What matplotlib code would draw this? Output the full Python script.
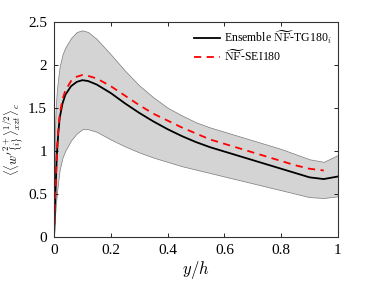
import matplotlib
matplotlib.use("Agg")
import matplotlib.pyplot as plt
import numpy as np

# values
y_h = [0.0, 0.003, 0.006, 0.01, 0.015, 0.02, 0.03, 0.04, 0.06, 0.08, 0.1, 0.12,
       0.15, 0.2, 0.25, 0.3, 0.35, 0.4, 0.45, 0.5, 0.55, 0.6, 0.65, 0.7,
       0.75, 0.8, 0.85, 0.9, 0.95, 1.0]
ensemble = [0.0, 0.3, 0.6, 0.95, 1.2, 1.38, 1.55, 1.65, 1.75, 1.80, 1.82, 1.81,
            1.77, 1.67, 1.55, 1.44, 1.34, 1.25, 1.17, 1.10, 1.04, 0.99, 0.94, 0.89,
            0.84, 0.79, 0.74, 0.69, 0.67, 0.70]
band_upper = [0.0, 1.2, 1.5, 1.7, 1.85, 1.98, 2.12, 2.2, 2.31, 2.38, 2.40, 2.38,
              2.30, 2.12, 1.93, 1.76, 1.62, 1.50, 1.41, 1.33, 1.27, 1.22, 1.17, 1.12,
              1.07, 1.02, 0.96, 0.90, 0.87, 0.95]
band_lower = [0.0, 0.2, 0.35, 0.5, 0.65, 0.78, 0.92, 1.0, 1.12, 1.2, 1.25, 1.25,
              1.22, 1.13, 1.05, 0.98, 0.92, 0.87, 0.82, 0.78, 0.74, 0.70, 0.66, 0.62,
              0.58, 0.54, 0.50, 0.46, 0.45, 0.47]
sei_y_h = y_h[:-1]
sei = [0.0, 0.32, 0.63, 0.98, 1.24, 1.42, 1.6, 1.7, 1.81, 1.86, 1.88, 1.87,
       1.84, 1.75, 1.64, 1.53, 1.43, 1.35, 1.27, 1.20, 1.13, 1.08, 1.03, 0.98,
       0.93, 0.88, 0.83, 0.79, 0.77]

plt.rcParams["mathtext.fontset"] = "cm"
plt.rcParams["font.family"] = "Liberation Serif"

fig = plt.figure(figsize=(3.74, 2.81), dpi=100)
ax = fig.add_axes([0.1444, 0.1577, 0.7593, 0.7651])

ax.fill_between(y_h, band_lower, band_upper, facecolor="#d4d4d4", edgecolor="#7a7a7a", linewidth=0.5)
ax.plot(y_h, ensemble, color="black", linewidth=1.3,
        label=r"Ensemble $\widetilde{\mathrm{NF}}$-TG180$_i$")
ax.plot(sei_y_h, sei, color="red", linestyle=(0, (4, 3)), linewidth=1.3,
        label=r"$\widetilde{\mathrm{NF}}$-SEI180")

ax.set_xlim(0, 1)
ax.set_ylim(0, 2.5)
ax.set_xticks([0, 0.2, 0.4, 0.6, 0.8, 1])
ax.set_xticklabels(["0", "0.2", "0.4", "0.6", "0.8", "1"])
ax.set_yticks([0, 0.5, 1, 1.5, 2, 2.5])
ax.set_yticklabels(["0", "0.5", "1", "1.5", "2", "2.5"])
ax.tick_params(direction="in", top=True, right=True, length=3, width=0.6,
               labelsize=11, pad=5)
for s in ax.spines.values():
    s.set_linewidth(0.8)
    s.set_color("#333333")

ax.set_xlabel(r"$y/h$", fontsize=12, labelpad=2)
ax.set_ylabel(r"$\langle\langle w'^{2+}_{\{i\}}\rangle^{1/2}_{xzt}\rangle_c$", fontsize=9)
ax.yaxis.set_label_coords(-0.1, 0.45)

ax.legend(loc="upper right", frameon=False, fontsize=8.5, handlelength=2.2,
          handletextpad=0.3, borderaxespad=0.15, labelspacing=0.25)

fig.savefig("out.png", dpi=100)
